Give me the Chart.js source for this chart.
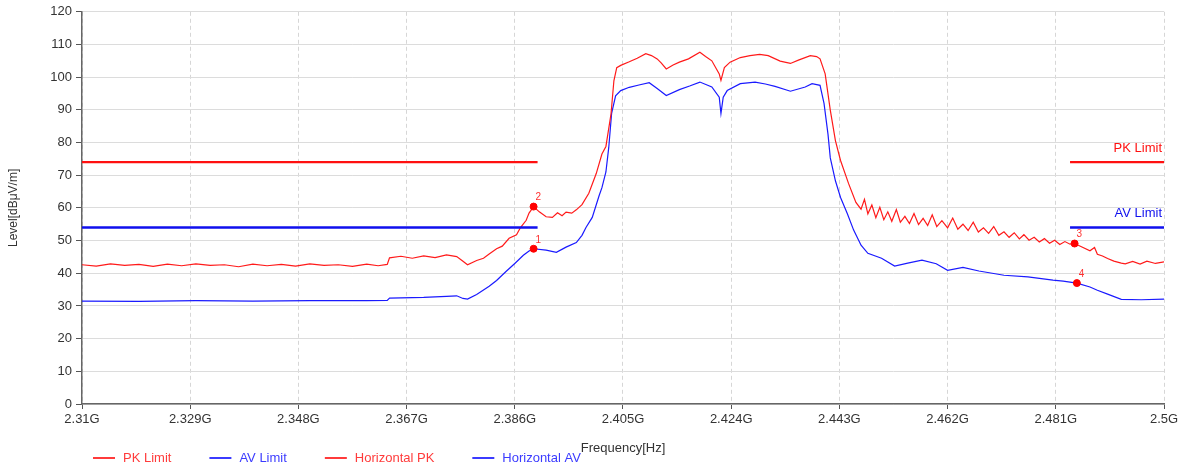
<!DOCTYPE html>
<html>
<head>
<meta charset="utf-8">
<script src="https://cdn.jsdelivr.net/npm/chart.js@4.4.1/dist/chart.umd.min.js"></script>
<style>
  html, body { margin: 0; padding: 0; background: #ffffff; }
  #wrap { width: 1185px; height: 470px; position: relative; }
</style>
</head>
<body>
<div id="wrap"><canvas id="scan"></canvas></div>
<script>
// axis ticks (GHz)
const xTickValues = [2.31, 2.329, 2.348, 2.367, 2.386, 2.405, 2.424, 2.443, 2.462, 2.481, 2.5];
const xTickLabels = ['2.31G', '2.329G', '2.348G', '2.367G', '2.386G', '2.405G', '2.424G', '2.443G', '2.462G', '2.481G', '2.5G'];

// limit lines (dBuV/m) and the restricted bands they apply to
const pkLimit = 74;
const avLimit = 54;
const limitBands = [[2.31, 2.39], [2.4835, 2.5]];

// Horizontal PK trace
const pkFreq = [
  2.3100, 2.3125, 2.3150, 2.3175, 2.3200, 2.3225, 2.3250, 2.3275, 2.3300, 2.3325,
  2.3350, 2.3375, 2.3400, 2.3425, 2.3450, 2.3475, 2.3500, 2.3525, 2.3550, 2.3575,
  2.3600, 2.3620, 2.3636, 2.3640, 2.3660, 2.3680, 2.3700, 2.3720, 2.3740, 2.3758,
  2.3769, 2.3777, 2.3793, 2.3805, 2.3815, 2.3828, 2.3838, 2.3850, 2.3863, 2.3870,
  2.3880, 2.3885, 2.3893, 2.3903, 2.3915, 2.3926, 2.3935, 2.3943, 2.3950, 2.3960,
  2.3968, 2.3978, 2.3990, 2.4003, 2.4013, 2.4020, 2.4029, 2.4034, 2.4039, 2.4046,
  2.4061, 2.4075, 2.4090, 2.4100, 2.4110, 2.4117, 2.4126, 2.4138, 2.4149, 2.4165,
  2.4185, 2.4195, 2.4206, 2.4219, 2.4222, 2.4228, 2.4238, 2.4256, 2.4273, 2.4290,
  2.4305, 2.4326, 2.4344, 2.4358, 2.4379, 2.4390, 2.4396, 2.4405, 2.4414, 2.4423,
  2.4432, 2.4446, 2.4459, 2.4468, 2.4474, 2.4480, 2.4487, 2.4494, 2.4501, 2.4508,
  2.4515, 2.4522, 2.4530, 2.4537, 2.4545, 2.4553, 2.4561, 2.4569, 2.4577, 2.4585,
  2.4593, 2.4601, 2.4610, 2.4620, 2.4629, 2.4638, 2.4647, 2.4656, 2.4665, 2.4674,
  2.4683, 2.4692, 2.4701, 2.4710, 2.4719, 2.4728, 2.4737, 2.4746, 2.4754, 2.4763,
  2.4772, 2.4781, 2.4790, 2.4799, 2.4808, 2.4817, 2.4826, 2.4835, 2.4843, 2.4855,
  2.4870, 2.4878, 2.4883, 2.4892, 2.4901, 2.4912, 2.4925, 2.4932, 2.4945, 2.4958,
  2.4970, 2.4985, 2.5000
];
const pkLevel = [
  42.6, 42.2, 42.9, 42.4, 42.7, 42.1, 42.8, 42.3, 42.9, 42.4,
  42.6, 42.0, 42.8, 42.3, 42.7, 42.2, 42.9, 42.4, 42.6, 42.1,
  42.8, 42.3, 42.7, 44.7, 45.2, 44.6, 45.3, 44.8, 45.6, 45.1,
  43.7, 42.6, 43.9, 44.6, 45.9, 47.5, 48.3, 50.7, 51.8, 54.0,
  56.2, 58.4, 60.4, 58.8, 57.3, 57.1, 58.5, 57.6, 58.7, 58.4,
  59.4, 61.0, 64.5, 70.5, 76.5, 78.8, 88.8, 98.9, 102.9, 103.6,
  104.7, 105.8, 107.2, 106.6, 105.6, 104.4, 102.5, 103.7, 104.6, 105.6,
  107.6, 106.3, 105.0, 101.0, 99.0, 102.9, 104.6, 106.0, 106.6, 107.0,
  106.6, 104.9, 104.2, 105.2, 106.6, 106.3, 105.6, 101.0, 89.9, 80.6,
  74.5, 67.5, 61.7, 59.6, 62.6, 58.2, 60.9, 57.0, 60.2, 56.4,
  58.8, 55.9, 59.5, 55.6, 57.4, 55.2, 58.3, 54.9, 56.8, 54.6,
  57.9, 54.3, 56.1, 53.9, 56.9, 53.5, 55.0, 53.1, 55.6, 52.6,
  53.9, 52.2, 54.3, 51.6, 52.7, 51.0, 52.4, 50.5, 51.8, 50.1,
  51.0, 49.6, 50.6, 49.2, 50.1, 48.8, 49.7, 48.9, 49.1, 48.1,
  46.9, 47.9, 45.8, 45.3, 44.5, 43.7, 43.1, 42.9, 43.6, 42.8,
  43.7, 43.0, 43.5
];

// Horizontal AV trace
const avFreq = [
  2.3100, 2.3200, 2.3300, 2.3400, 2.3500, 2.3600, 2.3636, 2.3640, 2.3700, 2.3740,
  2.3758, 2.3769, 2.3777, 2.3793, 2.3815, 2.3828, 2.3845, 2.3860, 2.3875, 2.3885,
  2.3893, 2.3915, 2.3933, 2.3950, 2.3968, 2.3978, 2.3985, 2.3996, 2.4008, 2.4013,
  2.4020, 2.4025, 2.4030, 2.4037, 2.4046, 2.4061, 2.4078, 2.4096, 2.4110, 2.4126,
  2.4149, 2.4167, 2.4185, 2.4206, 2.4219, 2.4222, 2.4226, 2.4233, 2.4256, 2.4282,
  2.4300, 2.4317, 2.4344, 2.4370, 2.4382, 2.4396, 2.4403, 2.4410, 2.4414, 2.4423,
  2.4432, 2.4444, 2.4455, 2.4468, 2.4480, 2.4504, 2.4527, 2.4550, 2.4575, 2.4600,
  2.4620, 2.4647, 2.4675, 2.4719, 2.4761, 2.4805, 2.4823, 2.4847, 2.4870, 2.4883,
  2.4901, 2.4925, 2.4960, 2.5000
];
const avLevel = [
  31.5, 31.4, 31.6, 31.5, 31.6, 31.6, 31.7, 32.4, 32.6, 32.9,
  33.1, 32.3, 32.1, 33.5, 36.0, 37.8, 40.6, 43.0, 45.5, 46.8,
  47.5, 47.1, 46.4, 48.0, 49.4, 51.6, 54.0, 57.1, 63.7, 66.2,
  71.0, 78.5, 88.9, 94.3, 95.9, 96.9, 97.6, 98.3, 96.5, 94.4,
  96.2, 97.3, 98.5, 97.0, 93.9, 88.9, 93.9, 95.9, 98.0, 98.5,
  97.9, 97.2, 95.7, 97.0, 98.0, 97.5, 92.0, 82.5, 75.3, 68.3,
  63.2, 58.2, 53.2, 48.6, 46.1, 44.6, 42.2, 43.1, 44.0, 42.9,
  40.9, 41.8, 40.7, 39.4, 38.9, 37.9, 37.6, 37.0, 35.8, 34.8,
  33.6, 32.0, 31.9, 32.1
];

// marker points
const markerNames = ['1', '2', '3', '4'];
const markerFreq = [2.3893, 2.3893, 2.4843, 2.4847];
const markerLevel = [47.5, 60.4, 49.1, 37.0];

const FONT = "'Liberation Sans', Arial, sans-serif";
const RED = '#ff1a1a';
const BLUE = '#1a1aff';

function limitPoints(level) {
    let pts = [];
    limitBands.forEach((band, i) => {
        if (i > 0) pts.push({x: band[0], y: null});
        pts.push({x: band[0], y: level});
        pts.push({x: band[1], y: level});
    });
    return pts;
}

function zipPoints(xs, ys) {
    return xs.map((x, i) => ({x: x, y: ys[i]}));
}

// limit captions, marker numbers and the legend row
const overlayPlugin = {
    id: 'overlay',
    afterDatasetsDraw(chart) {
        const c = chart.ctx;
        const area = chart.chartArea;
        const yScale = chart.scales.y;
        c.save();
        chart.data.datasets.forEach((ds, i) => {
            if (ds.limitLevel !== undefined) {
                c.font = '13px ' + FONT;
                c.fillStyle = ds.borderColor;
                c.textAlign = 'right';
                c.textBaseline = 'middle';
                c.fillText(ds.label, area.right - 2, yScale.getPixelForValue(ds.limitLevel) - 14);
            }
            if (ds.isMarker) {
                const meta = chart.getDatasetMeta(i);
                c.font = '10px ' + FONT;
                c.fillStyle = '#ff3030';
                c.textAlign = 'left';
                c.textBaseline = 'middle';
                meta.data.forEach((pt, k) => {
                    c.fillText(markerNames[k], pt.x + 2, pt.y - 9);
                });
            }
        });
        c.restore();
    },
    afterDraw(chart) {
        const c = chart.ctx;
        c.save();
        c.font = '13px ' + FONT;
        c.textBaseline = 'middle';
        c.textAlign = 'left';
        let x = 93;
        const y = 458;
        chart.data.datasets.forEach((ds) => {
            if (ds.isMarker) return;
            c.strokeStyle = ds.legendColor;
            c.lineWidth = 2;
            c.beginPath();
            c.moveTo(x, y);
            c.lineTo(x + 22, y);
            c.stroke();
            c.fillStyle = ds.legendColor;
            c.fillText(ds.label, x + 30, y);
            x += 30 + c.measureText(ds.label).width + 38;
        });
        c.restore();
    }
};

function makeChart() {
    const ctx = document.getElementById('scan');
    new Chart(ctx, {
        type: 'line',
        data: {
            datasets: [
                {
                    label: 'Markers', isMarker: true,
                    data: zipPoints(markerFreq, markerLevel),
                    showLine: false, pointRadius: 3.5, pointBackgroundColor: '#ff0000',
                    pointBorderColor: '#ff0000', pointStyle: 'circle', order: 0
                },
                {
                    label: 'PK Limit', limitLevel: pkLimit, legendColor: '#ff3b3b',
                    data: limitPoints(pkLimit),
                    borderColor: '#ff1010', borderWidth: 2.2, pointRadius: 0, spanGaps: false, order: 1
                },
                {
                    label: 'AV Limit', limitLevel: avLimit, legendColor: '#3b3bff',
                    data: limitPoints(avLimit),
                    borderColor: '#1010ee', borderWidth: 2.5, pointRadius: 0, spanGaps: false, order: 1
                },
                {
                    label: 'Horizontal PK', legendColor: '#ff3b3b',
                    data: zipPoints(pkFreq, pkLevel),
                    borderColor: RED, borderWidth: 1.2, pointRadius: 0, tension: 0, order: 2
                },
                {
                    label: 'Horizontal AV', legendColor: '#3b3bff',
                    data: zipPoints(avFreq, avLevel),
                    borderColor: BLUE, borderWidth: 1.2, pointRadius: 0, tension: 0, order: 2
                }
            ]
        },
        options: {
            responsive: false,
            animation: false,
            layout: {padding: {left: 0, right: 21, top: 11, bottom: 0}},
            plugins: {
                legend: {display: false},
                tooltip: {enabled: false}
            },
            scales: {
                x: {
                    type: 'linear',
                    min: 2.31,
                    max: 2.5,
                    afterBuildTicks: (scale) => {
                        scale.ticks = xTickValues.map(v => ({value: v}));
                    },
                    afterFit: (scale) => { scale.height = 66; },
                    ticks: {
                        autoSkip: false,
                        maxRotation: 0,
                        padding: 3,
                        color: '#333333',
                        font: {family: FONT, size: 13},
                        callback: (value, index) => xTickLabels[index]
                    },
                    grid: {
                        color: '#d6d6d6',
                        tickColor: '#555555',
                        tickLength: 5,
                        lineWidth: 1
                    },
                    border: {display: true, color: '#666666', width: 1.5, dash: [4, 3]},
                    title: {
                        display: true,
                        text: 'Frequency[Hz]',
                        color: '#333333',
                        font: {family: FONT, size: 13},
                        padding: {top: 0, bottom: 14}
                    }
                },
                y: {
                    min: 0,
                    max: 120,
                    afterFit: (scale) => { scale.width = 82; },
                    ticks: {
                        stepSize: 10,
                        padding: 4,
                        color: '#333333',
                        font: {family: FONT, size: 13}
                    },
                    grid: {
                        color: '#dcdcdc',
                        tickColor: '#555555',
                        tickLength: 6,
                        lineWidth: 1
                    },
                    border: {display: true, color: '#666666', width: 1.5},
                    title: {
                        display: true,
                        text: 'Level[dBμV/m]',
                        color: '#333333',
                        font: {family: FONT, size: 12},
                        padding: {top: 6, bottom: 0}
                    }
                }
            }
        },
        plugins: [overlayPlugin]
    });
}

document.addEventListener('DOMContentLoaded', function() {
    const canvas = document.getElementById('scan');
    canvas.width = 1185;
    canvas.height = 470;
    makeChart();
});
</script>
</body>
</html>
